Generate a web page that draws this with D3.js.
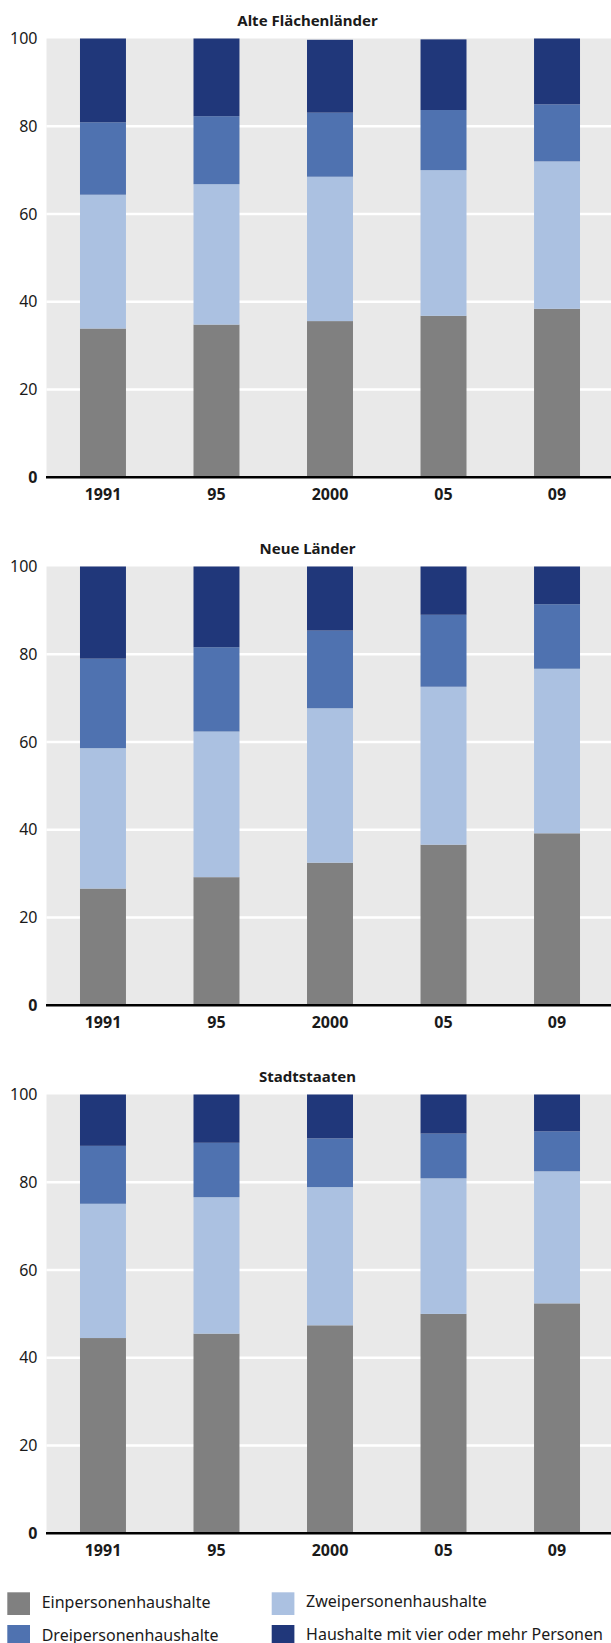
<!DOCTYPE html>
<html>
<head>
<meta charset="utf-8">
<script src="https://cdn.jsdelivr.net/npm/d3@7"></script>
<style>
  html, body { margin: 0; padding: 0; background: #ffffff; }
  svg { display: block; }
  text { font-family: "Noto Sans", "Open Sans", sans-serif; fill: #1a1a1a; }
</style>
</head>
<body>
<svg id="chart" width="611" height="1643"></svg>
<script>
// Household size shares (percent), by region and year
const years = ["1991", "95", "2000", "05", "09"];
const seriesNames = ["Einpersonenhaushalte", "Zweipersonenhaushalte", "Dreipersonenhaushalte", "Haushalte mit vier oder mehr Personen"];
const seriesColors = ["#808080", "#abc1e1", "#4f72b0", "#20377a"];
const yTicks = [0, 20, 40, 60, 80, 100];

const regionTitles = ["Alte Flächenländer", "Neue Länder", "Stadtstaaten"];

// One array per region: [Einpersonen, Zweipersonen, Dreipersonen, Vier+] for each year
const alteFlaechenlaender = [
  [33.9, 30.5, 16.5, 19.1],
  [34.8, 32.0, 15.5, 17.7],
  [35.6, 32.9, 14.6, 16.6],
  [36.8, 33.2, 13.7, 16.1],
  [38.4, 33.6, 13.0, 15.0]
];
const neueLaender = [
  [26.6, 32.0, 20.4, 21.0],
  [29.2, 33.2, 19.2, 18.4],
  [32.5, 35.2, 17.7, 14.6],
  [36.6, 36.0, 16.4, 11.0],
  [39.2, 37.5, 14.7, 8.6]
];
const stadtstaaten = [
  [44.5, 30.6, 13.2, 11.7],
  [45.5, 31.1, 12.4, 11.0],
  [47.4, 31.5, 11.1, 10.0],
  [50.0, 30.9, 10.2, 8.9],
  [52.4, 30.1, 9.1, 8.4]
];
const regionData = [alteFlaechenlaender, neueLaender, stadtstaaten];

const svg = d3.select("#chart");
const W = 611;
const plotLeft = 46.5, plotRight = 611;
const panelTop0 = 38.5, panelHeight = 438.8, panelStep = 528;

const x = d3.scaleBand()
  .domain(years)
  .range([plotLeft, 613.5])
  .paddingInner(0.595)
  .paddingOuter(0.295);

const keys = d3.range(seriesNames.length);

regionData.forEach((rows, p) => {
  const top = panelTop0 + p * panelStep;
  const bottom = top + panelHeight;
  const y = d3.scaleLinear().domain([0, 100]).range([bottom, top]);
  const g = svg.append("g");

  // panel title
  g.append("text")
    .attr("x", W / 2 + 2)
    .attr("y", top - 13)
    .attr("text-anchor", "middle")
    .style("font-weight", "700")
    .style("font-size", "15px")
    .text(regionTitles[p]);

  // plot background
  g.append("rect")
    .attr("x", plotLeft).attr("y", top)
    .attr("width", plotRight - plotLeft).attr("height", panelHeight)
    .attr("fill", "#e9e9e9");

  // horizontal gridlines
  g.selectAll("line.grid")
    .data(yTicks.filter(t => t > 0 && t < 100))
    .join("line")
    .attr("class", "grid")
    .attr("x1", plotLeft).attr("x2", plotRight)
    .attr("y1", d => y(d)).attr("y2", d => y(d))
    .attr("stroke", "#ffffff").attr("stroke-width", 2.5);

  // stacked bars
  const table = rows.map((r, i) => {
    const o = { year: years[i] };
    keys.forEach(k => { o[k] = r[k]; });
    return o;
  });
  const stacked = d3.stack().keys(keys)(table);
  g.selectAll("g.series")
    .data(stacked)
    .join("g")
    .attr("class", "series")
    .attr("fill", (d, i) => seriesColors[i])
    .selectAll("rect")
    .data(d => d)
    .join("rect")
    .attr("x", d => x(d.data.year))
    .attr("width", x.bandwidth())
    .attr("y", d => y(d[1]))
    .attr("height", d => y(d[0]) - y(d[1]));

  // y axis labels
  const yAxis = d3.axisLeft(y).tickValues(yTicks).tickSize(0).tickPadding(9);
  const ya = g.append("g").attr("transform", `translate(${plotLeft},0)`).call(yAxis);
  ya.select(".domain").remove();
  ya.selectAll("text")
    .style("font-family", "'Noto Sans', sans-serif")
    .style("font-size", "16px")
    .style("fill", "#1a1a1a")
    .style("font-weight", d => d === 0 ? "700" : "400");

  // x axis with baseline
  const xAxis = d3.axisBottom(x).tickSize(0).tickPadding(11);
  const xa = g.append("g").attr("transform", `translate(0,${bottom})`).call(xAxis);
  xa.select(".domain").remove();
  xa.selectAll("text")
    .style("font-family", "'Noto Sans', sans-serif")
    .style("font-size", "16px")
    .style("font-weight", "700")
    .style("fill", "#1a1a1a");
  g.append("line")
    .attr("x1", plotLeft - 0.5).attr("x2", plotRight)
    .attr("y1", bottom).attr("y2", bottom)
    .attr("stroke", "#000000").attr("stroke-width", 2.5);
});

// legend
const legendItems = [
  { i: 0, col: 0, row: 0 },
  { i: 1, col: 1, row: 0 },
  { i: 2, col: 0, row: 1 },
  { i: 3, col: 1, row: 1 }
];
const legendX = [7.3, 271.7];
const legendY = 1592.3, legendRow = 32.7, sw = 22.7;
const lg = svg.append("g");
const li = lg.selectAll("g").data(legendItems).join("g")
  .attr("transform", d => `translate(${legendX[d.col]},${legendY + d.row * legendRow})`);
li.append("rect")
  .attr("width", sw).attr("height", sw)
  .attr("fill", d => seriesColors[d.i]);
li.append("text")
  .attr("x", 34.4)
  .attr("y", d => d.col === 0 ? 16 : 14.5)
  .style("font-size", "16px")
  .text(d => seriesNames[d.i]);
</script>
</body>
</html>
